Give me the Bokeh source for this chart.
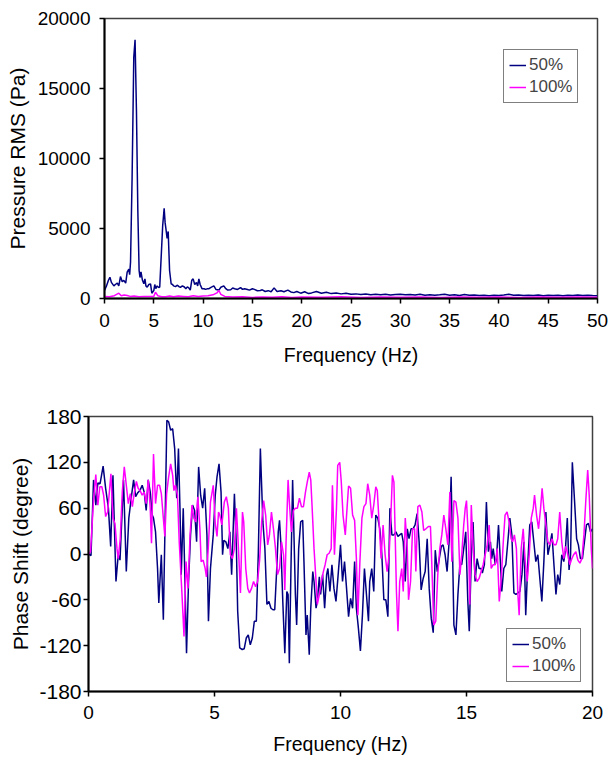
from bokeh.plotting import figure
from bokeh.models import Range1d, FixedTicker, Legend, LegendItem
from bokeh.embed import file_html
from bokeh.resources import INLINE

FONT = "Liberation Sans"
NAVY = "#000080"
MAGENTA = "#FF00FF"

# ---------------- Top chart data: Pressure RMS (Pa) vs Frequency (Hz) ----------------
freq_rms_50 = [0.0, 0.2, 0.4, 0.55, 0.7, 0.95, 1.1, 1.3, 1.45, 1.62, 1.8, 1.96, 2.15, 2.3, 2.47, 2.55,
               2.64, 2.8, 2.97, 3.1, 3.24, 3.38, 3.51, 3.6, 3.7, 3.85, 3.99, 4.1, 4.2, 4.33, 4.5, 4.67,
               4.8, 5.0, 5.1, 5.2, 5.34, 5.5, 5.6, 5.78, 5.9, 6.05, 6.15, 6.25, 6.35, 6.46, 6.6, 6.76,
               6.9, 7.0, 7.2, 7.4, 7.55, 7.7, 7.9, 8.1, 8.25, 8.4, 8.55, 8.7, 8.85, 8.99, 9.15, 9.33,
               9.45, 9.57, 9.7, 9.9, 10.1, 10.25, 10.4, 10.6, 10.8, 11.09, 11.3, 11.6, 11.8, 12.1, 12.3,
               12.5, 12.8, 13.0, 13.2, 13.5, 13.8, 14.0, 14.2, 14.5, 14.7, 15.0, 15.2, 15.5, 15.8, 16.0,
               16.3, 16.6, 16.9, 17.2, 17.5, 17.9, 18.2, 18.6, 18.9, 19.2, 19.5, 19.9, 20.3, 20.7, 21.0,
               21.5, 22.0, 22.5, 23.0, 23.5, 24.0, 24.5, 25.0, 25.5, 26.0, 26.5, 27.0, 27.5, 28.0, 28.5,
               29.0, 29.5, 30.0, 30.5, 31.0, 31.5, 32.0, 32.5, 33.0, 33.5, 34.0, 34.5, 35.0, 35.5, 36.0,
               36.5, 37.0, 37.5, 38.0, 38.5, 39.0, 39.5, 40.0, 40.5, 41.0, 41.5, 42.0, 42.5, 43.0, 43.5,
               44.0, 44.5, 45.0, 45.5, 46.0, 46.5, 47.0, 47.5, 48.0, 48.5, 49.0, 49.5, 50.0]
rms_50 = [571, 900, 1300, 1520, 1150, 900, 1000, 1100, 900, 1570, 1200, 1290, 1100, 1880, 2100, 1700,
          2600, 8667, 17238, 18480, 13430, 6286, 2000, 1500, 1900, 1300, 1048, 1400, 900, 810, 1000, 1048,
          380, 571, 1000, 700, 900, 780, 810, 3430, 5200, 6450, 5400, 4860, 4300, 4790, 2000, 1048,
          1000, 900, 850, 950, 850, 800, 900, 820, 700, 830, 760, 600, 1300, 1400, 1000, 1150,
          900, 1400, 1000, 690, 700, 650, 690, 700, 800, 900, 650, 600, 800, 900, 700,
          600, 620, 750, 700, 650, 780, 650, 700, 640, 600, 700, 650, 550, 570, 620,
          500, 560, 480, 760, 500, 550, 480, 600, 470, 420, 500, 380, 480, 350, 400,
          500, 380, 450, 350, 400, 330, 380, 300, 330, 280, 320, 270, 300, 260, 300,
          250, 280, 300, 260, 280, 250, 300, 240, 270, 230, 260, 300, 240, 260, 220,
          280, 230, 250, 220, 240, 200, 230, 210, 250, 300, 230, 250, 210, 240, 220,
          250, 200, 230, 210, 240, 200, 230, 210, 250, 220, 230, 210, 200]

freq_rms_100 = [0.0, 0.5, 1.0, 1.45, 1.7, 2.0, 2.3, 2.6, 3.0, 3.5, 4.0, 4.5, 5.0, 5.17, 5.4, 5.8, 6.2,
                6.6, 7.0, 7.5, 8.0, 8.5, 9.0, 9.5, 10.0, 10.5, 11.0, 11.4, 11.6, 11.8, 12.2, 13.0, 14.0,
                15.0, 16.0, 17.0, 18.0, 19.0, 20.0, 22.0, 24.0, 26.0, 28.0, 30.0, 32.0, 34.0, 36.0,
                38.0, 40.0, 42.0, 44.0, 46.0, 48.0, 50.0]
rms_100 = [150, 120, 200, 380, 200, 250, 220, 150, 170, 130, 150, 140, 150, 450, 200, 120, 130,
           180, 120, 180, 150, 120, 200, 140, 170, 200, 260, 400, 570, 300, 150, 100, 130,
           80, 110, 90, 120, 80, 100, 90, 120, 80, 100, 90, 110, 80, 100,
           90, 110, 80, 100, 90, 100, 90]

rms_xticks = [0, 5, 10, 15, 20, 25, 30, 35, 40, 45, 50]
rms_yticks = [0, 5000, 10000, 15000, 20000]

# ---------------- Bottom chart data: Phase Shift (degree) vs Frequency (Hz) ----------------
freq_ph_50 = [0.0, 0.1, 0.2, 0.29, 0.37, 0.46, 0.58, 0.68, 0.79, 0.88, 0.97, 1.09, 1.18, 1.25, 1.39, 1.5,
              1.6, 1.71, 1.79, 1.87, 1.95, 2.04, 2.13, 2.21, 2.29, 2.37, 2.45, 2.53, 2.58, 2.66, 2.74,
              2.79, 2.89, 2.97, 3.03, 3.11, 3.18, 3.26, 3.34, 3.42, 3.5, 3.57, 3.63, 3.68, 3.76, 3.84,
              3.89, 3.97, 4.05, 4.13, 4.21, 4.29, 4.37, 4.45, 4.53, 4.61, 4.7, 4.76, 4.84, 4.95, 5.03,
              5.1, 5.18, 5.26, 5.32, 5.37, 5.45, 5.53, 5.61, 5.68, 5.79, 5.87, 5.92, 6.0, 6.1, 6.18,
              6.26, 6.34, 6.42, 6.5, 6.58, 6.66, 6.74, 6.82, 6.87, 6.92, 7.0, 7.08, 7.16, 7.24, 7.32,
              7.39, 7.47, 7.53, 7.58, 7.63, 7.71, 7.79, 7.87, 7.92, 7.97, 8.03, 8.1, 8.16, 8.21, 8.26,
              8.34, 8.42, 8.5, 8.55, 8.63, 8.68, 8.76, 8.82, 8.9, 8.95, 9.03, 9.08, 9.16, 9.21, 9.29,
              9.37, 9.45, 9.5, 9.58, 9.66, 9.74, 9.82, 9.9, 10.0, 10.08, 10.16, 10.24, 10.32, 10.4,
              10.48, 10.56, 10.63, 10.71, 10.79, 10.87, 10.95, 11.03, 11.11, 11.16, 11.24, 11.32,
              11.4, 11.48, 11.56, 11.64, 11.72, 11.8, 11.88, 11.96, 12.04, 12.12, 12.2, 12.28, 12.35,
              12.43, 12.49, 12.57, 12.65, 12.72, 12.8, 12.88, 12.96, 13.04, 13.12, 13.2, 13.28, 13.36,
              13.44, 13.52, 13.6, 13.68, 13.76, 13.84, 13.92, 14.0, 14.07, 14.15, 14.23, 14.31, 14.39,
              14.44, 14.5, 14.58, 14.66, 14.74, 14.81, 14.89, 14.97, 15.05, 15.11, 15.19, 15.26, 15.34,
              15.42, 15.5, 15.58, 15.63, 15.71, 15.79, 15.87, 15.95, 16.0, 16.06, 16.14, 16.19, 16.27,
              16.35, 16.4, 16.48, 16.56, 16.64, 16.72, 16.8, 16.88, 16.96, 17.04, 17.12, 17.2, 17.28,
              17.35, 17.43, 17.51, 17.59, 17.67, 17.75, 17.83, 17.91, 17.99, 18.07, 18.15, 18.23,
              18.31, 18.39, 18.47, 18.55, 18.62, 18.7, 18.78, 18.86, 18.92, 19.0, 19.07, 19.13, 19.2,
              19.29, 19.37, 19.44, 19.52, 19.6, 19.68, 19.76, 19.84, 19.92, 20.0]
phase_50 = [0, -2, 97, 64, 93, 92, 115, 86, 60, 10, 103, -36, -1, -8, 97, -23,
            47, 77, 97, 75, 80, 83, 90, 81, 57, 97, 81, 51, 47, 29, -19,
            -64, -1, -86, 25, 175, 173, 162, 164, 138, 73, 138, 60, -27, 60, -53,
            -130, -36, 25, 64, 57, 16, 114, 77, 60, 86, 25, -88, -19, 25, 77,
            101, 118, 81, -1, 18, 16, 7, 29, -27, 79, 7, -75, -123, -125, -124,
            -110, -106, -119, -110, -88, -88, 3, 138, 90, 42, 7, -66, -62, -71, -73,
            -73, -19, 29, 44, 16, -62, -130, -49, -53, -143, -27, 97, 16, -53, -93,
            7, 42, 44, -10, -106, -80, -132, -71, -23, -36, -71, -62, -30, -53, -27,
            -71, -27, -19, -49, -14, -45, -62, -30, 12, -36, -10, -45, -82, -58,
            -71, -10, -71, -97, -127, -80, -19, -53, -88, -36, -19, -49,
            51, 47, 33, -1, -60, -60, -82, 60, 25, 25, 29, 23, 25,
            27, 16, -36, 33, 20, 33, 33, 38, 53, 16, -47, -32, -23,
            20, -45, -84, -103, 5, -23, -6, 10, 12, -1, -23, 16, 101,
            16, -93, -106, -53, -12, -14, 7, 29, -60, -101, -6, 42, -36,
            -6, -19, -19, -25, -14, 68, 3, 16, -6, 7, -14, -6, 38,
            -14, -49, -19, -14, 16, 47, 25, -51, -53, -51, -49, -27, 16,
            -80, -14, 38, 42, 16, -10, -1, -32, -62, -10, 55, -1,
            12, 27, -14, -53, -27, -40, -1, -10, 3, 47, -21, -1, 120,
            68, 20, 12, -6, -6, 16, 38, 40, 29, 33]

freq_ph_100 = [0.0, 0.08, 0.2, 0.29, 0.37, 0.45, 0.53, 0.6, 0.68, 0.76, 0.89, 0.97, 1.05, 1.13, 1.18,
               1.26, 1.34, 1.42, 1.5, 1.58, 1.66, 1.74, 1.82, 1.9, 1.97, 2.05, 2.13, 2.21, 2.29, 2.37,
               2.45, 2.5, 2.58, 2.66, 2.74, 2.82, 2.89, 2.97, 3.03, 3.1, 3.18, 3.26, 3.34, 3.39, 3.45,
               3.53, 3.6, 3.71, 3.79, 3.87, 3.95, 4.03, 4.11, 4.18, 4.26, 4.34, 4.42, 4.47, 4.55, 4.63,
               4.68, 4.76, 4.84, 4.95, 5.03, 5.1, 5.16, 5.21, 5.29, 5.39, 5.47, 5.55, 5.63, 5.71, 5.79,
               5.87, 5.95, 6.03, 6.11, 6.16, 6.24, 6.32, 6.39, 6.47, 6.55, 6.63, 6.71, 6.79, 6.87, 6.95,
               7.03, 7.11, 7.18, 7.26, 7.34, 7.42, 7.5, 7.58, 7.66, 7.74, 7.79, 7.84, 7.92, 7.97, 8.05,
               8.13, 8.21, 8.29, 8.37, 8.45, 8.53, 8.61, 8.68, 8.76, 8.82, 8.87, 8.95, 9.03, 9.08, 9.16,
               9.24, 9.32, 9.39, 9.47, 9.55, 9.63, 9.68, 9.76, 9.84, 9.89, 9.97, 10.03, 10.1, 10.19,
               10.26, 10.32, 10.4, 10.48, 10.56, 10.63, 10.69, 10.77, 10.85, 10.93, 11.01, 11.08, 11.16,
               11.24, 11.32, 11.4, 11.46, 11.53, 11.61, 11.69, 11.77, 11.85, 11.93, 12.01, 12.06, 12.12,
               12.17, 12.22, 12.28, 12.35, 12.43, 12.49, 12.57, 12.65, 12.7, 12.78, 12.86, 12.94, 12.99,
               13.07, 13.15, 13.23, 13.3, 13.39, 13.49, 13.57, 13.62, 13.7, 13.78, 13.86, 13.94, 14.02,
               14.1, 14.18, 14.26, 14.34, 14.42, 14.5, 14.58, 14.66, 14.74, 14.81, 14.89, 14.95, 15.0,
               15.08, 15.13, 15.19, 15.26, 15.34, 15.42, 15.5, 15.58, 15.66, 15.74, 15.82, 15.9, 15.98,
               16.06, 16.14, 16.22, 16.3, 16.38, 16.46, 16.53, 16.61, 16.69, 16.77, 16.83, 16.9, 16.98,
               17.04, 17.09, 17.17, 17.25, 17.33, 17.41, 17.49, 17.57, 17.65, 17.7, 17.78, 17.86, 17.94,
               18.0, 18.07, 18.15, 18.23, 18.31, 18.39, 18.47, 18.55, 18.62, 18.7, 18.78, 18.86, 18.94,
               19.02, 19.1, 19.18, 19.25, 19.34, 19.42, 19.5, 19.58, 19.66, 19.74, 19.81, 19.87, 19.95,
               20.0]
phase_100 = [0, 3, 70, 104, 64, 88, 88, 77, 49, 55, 105, 47, 40, 7, -6,
             20, 81, 114, 90, 66, 79, 62, 81, 95, 86, 83, 77, 81, 66, 97,
             60, 14, 131, 66, 90, 90, 79, 47, 23, 79, 101, 118, 103, 83, 90,
             77, 16, -53, -108, -10, -45, 25, 64, 47, 42, 75, 33, -10, -8, -19,
             -30, 12, 68, 90, 40, 23, 55, 51, 38, 68, 75, 60, -1, -6, 7,
             60, 7, -51, 55, 42, -19, -45, -51, -45, -36, -43, -36, -8, 42, 70,
             51, 12, 25, 55, 33, 7, -27, -19, 16, -1, -47, 16, 97, 68, 29,
             57, 60, 60, 73, 62, 62, 81, 94, 107, 97, 64, 7, -36, -66, -53,
             -36, -23, -14, -1, 1, 7, 90, -1, 60, 116, 120, 95, 51, 25,
             60, 89, 86, 51, 44, -6, -80, -10, 47, 62, 66, 92, 77,
             47, 64, 88, 83, 42, -6, 38, -1, -23, -1, 60, 103, 94,
             25, -49, -101, -36, -19, -49, 47, 7, -60, -36, 33, 33, -23,
             62, 64, 55, 31, 33, 36, 36, -10, -93, -88, -27, 7, 25,
             51, 33, 12, 81, -10, 70, 68, 47, -27, -1, 38, 60, 70,
             16, -66, 64, 12, -27, -36, -32, -23, -14, -1, 12, 38, -19,
             -14, -14, 7, -62, -32, 16, 51, 55, 42, 20, 16, 25, 7,
             -53, -80, 7, 33, -10, -36, -1, 47, 60, 77, 51, 33, 60,
             86, 60, 38, 16, 12, 20, 12, 12, 20, 55, 16, -6, 10,
             -1, -14, -6, -1, 3, -8, -12, -6, 25, 73, 110, 77, 7,
             -19]

ph_xticks = [0, 5, 10, 15, 20]
ph_yticks = [-180, -120, -60, 0, 60, 120, 180]
ph_ytick_labels = ["-180", "-120", "-60", "0", "60", "120", "180"]

series_labels = ["50%", "100%"]


def style(p, xticks, yticks, xtick_font, ytick_font, xlabel_font, ylabel_font):
    p.xaxis.ticker = FixedTicker(ticks=xticks)
    p.yaxis.ticker = FixedTicker(ticks=yticks)
    for ax in (p.xaxis[0], p.yaxis[0]):
        ax.axis_line_color = "black"
        ax.axis_line_width = 2
        ax.major_tick_line_color = "black"
        ax.major_tick_line_width = 1.5
        ax.major_tick_out = 5
        ax.major_tick_in = 0
        ax.minor_tick_line_color = None
        ax.major_label_text_font = FONT
        ax.major_label_text_color = "black"
        ax.axis_label_text_font = FONT
        ax.axis_label_text_font_style = "normal"
        ax.axis_label_text_color = "black"
    p.xaxis.major_label_text_font_size = xtick_font
    p.yaxis.major_label_text_font_size = ytick_font
    p.xaxis.axis_label_text_font_size = xlabel_font
    p.yaxis.axis_label_text_font_size = ylabel_font
    p.xgrid.visible = False
    p.ygrid.visible = False
    p.outline_line_color = "#404040"
    p.outline_line_width = 1.5
    p.background_fill_color = "white"
    p.border_fill_color = "white"


def add_legend(p, renderers, loc):
    items = [LegendItem(label=lab, renderers=[r]) for lab, r in zip(series_labels, renderers)]
    lg = Legend(items=items, location=loc)
    lg.border_line_color = "black"
    lg.border_line_width = 1
    lg.background_fill_color = "white"
    lg.background_fill_alpha = 1
    lg.label_text_font = FONT
    lg.label_text_font_size = "17px"
    lg.glyph_width = 17
    lg.glyph_height = 18
    lg.label_height = 18
    lg.label_standoff = 3
    lg.padding = 5
    lg.spacing = 2
    lg.margin = 0
    p.add_layout(lg)


# ---- Top figure ----
p1 = figure(width=608, height=380, output_backend="svg", toolbar_location=None,
            x_range=Range1d(0, 50), y_range=Range1d(0, 20000),
            min_border_left=104, min_border_right=11, min_border_top=18, min_border_bottom=82)
style(p1, rms_xticks, rms_yticks, "19px", "19px", "19.5px", "21px")
p1.xaxis.axis_label = "Frequency (Hz)"
p1.yaxis.axis_label = "Pressure RMS (Pa)"
p1.xaxis.major_label_standoff = 10
p1.xaxis.axis_label_standoff = 14
p1.yaxis.major_label_standoff = 9
p1.yaxis.axis_label_standoff = 6
r1a = p1.line(freq_rms_50, rms_50, line_color=NAVY, line_width=1.5)
r1b = p1.line(freq_rms_100, rms_100, line_color=MAGENTA, line_width=1.5)
add_legend(p1, [r1a, r1b], (399, 195))

# ---- Bottom figure ----
p2 = figure(width=608, height=380, output_backend="svg", toolbar_location=None,
            x_range=Range1d(0, 20), y_range=Range1d(-180, 180),
            min_border_left=88, min_border_right=16, min_border_top=36, min_border_bottom=69)
style(p2, ph_xticks, ph_yticks, "19px", "21px", "19.5px", "21px")
p2.yaxis.major_label_overrides = {t: lab for t, lab in zip(ph_yticks, ph_ytick_labels)}
p2.xaxis.axis_label = "Frequency (Hz)"
p2.yaxis.axis_label = "Phase Shift (degree)"
p2.xaxis.major_label_standoff = 9
p2.xaxis.axis_label_standoff = 11
p2.yaxis.major_label_standoff = 2
p2.yaxis.axis_label_standoff = 4
r2a = p2.line(freq_ph_50, phase_50, line_color=NAVY, line_width=1.5)
r2b = p2.line(freq_ph_100, phase_100, line_color=MAGENTA, line_width=1.5)
add_legend(p2, [r2a, r2b], (418, 9))

open("out.html", "w").write(file_html([p1, p2], INLINE))
